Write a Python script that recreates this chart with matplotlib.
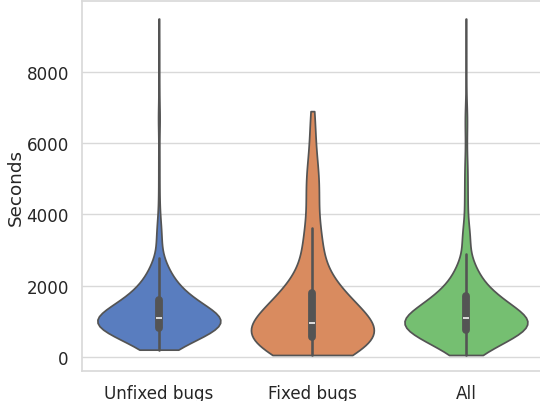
import numpy as np
import pandas as pd
import matplotlib
matplotlib.use("Agg")
import matplotlib.pyplot as plt
import seaborn as sns

# time to first result, binned (value in seconds, number of bugs)
unfixed_secs = [200, 300, 400, 500, 600, 700, 800, 900, 1000, 1100,
                1200, 1300, 1400, 1500, 1600, 1700, 1800, 1900, 2000, 2100,
                2200, 2300, 2400, 2500, 2600, 2770, 3200, 3400, 3600, 3800,
                4000, 4300, 4600, 5000, 5400, 5800, 6300, 6700, 7100,
                7600, 8200, 8800, 9500]
unfixed_counts = [10, 12, 15, 18, 22, 27, 34, 40, 41, 36,
                  30, 27, 23, 20, 18, 15, 13, 11, 10, 8,
                  7, 6, 5, 5, 4, 6, 4, 3, 2, 2,
                  1, 1, 1, 1, 1, 1, 1, 2, 1,
                  1, 1, 1, 1]

fixed_secs = [50, 150, 250, 350, 450, 550, 650, 750, 850, 950,
              1100, 1250, 1400, 1550, 1700, 1800, 2000, 2200, 2400, 2600,
              2900, 3250, 3400, 3621, 3900, 4200, 4500, 4800, 5100,
              5400, 5800, 6200, 6500, 6900]
fixed_counts = [7, 7, 7, 7, 7, 8, 8, 8, 9, 8,
                7, 7, 6, 6, 6, 6, 2, 4, 3, 3,
                2, 3, 3, 1, 1, 2, 2, 2, 2,
                2, 1, 1, 1, 1]

labels = ["Unfixed bugs", "Fixed bugs", "All"]

unfixed = np.repeat(unfixed_secs, unfixed_counts)
fixed = np.repeat(fixed_secs, fixed_counts)
everything = np.concatenate([unfixed, fixed])

df = pd.concat([
    pd.DataFrame({"group": labels[0], "Seconds": unfixed}),
    pd.DataFrame({"group": labels[1], "Seconds": fixed}),
    pd.DataFrame({"group": labels[2], "Seconds": everything}),
])

sns.set_theme(style="whitegrid", palette="muted", font_scale=1.1,
              rc={"grid.color": "#d9d9d9", "axes.edgecolor": "#d9d9d9"})

fig = plt.figure(figsize=(5.4, 4.02), dpi=100)
ax = fig.add_axes([0.152, 0.0746, 0.853, 0.920])
sns.violinplot(data=df, x="group", y="Seconds", hue="group", order=labels,
               cut=0, density_norm="width", legend=False, ax=ax)
ax.set_xlabel("")
ax.set_ylabel("Seconds", labelpad=1.5)
ax.set_ylim(-400, 9990)
ax.set_yticks([0, 2000, 4000, 6000, 8000])

fig.savefig("out.png", dpi=100)
